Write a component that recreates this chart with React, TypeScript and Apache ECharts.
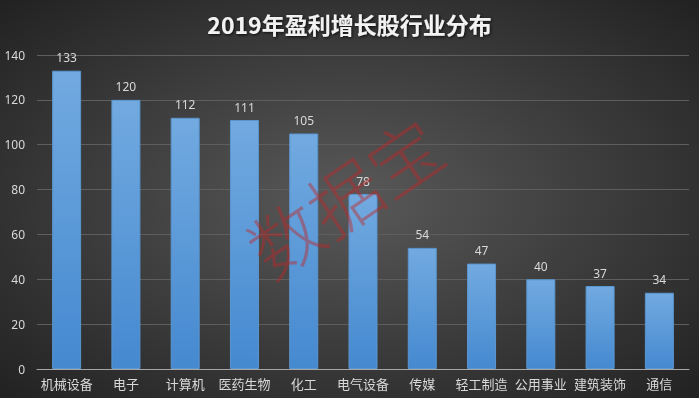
import React, { useEffect, useRef } from "react";
import * as echarts from "echarts";

const categories = ["机械设备", "电子", "计算机", "医药生物", "化工", "电气设备", "传媒", "轻工制造", "公用事业", "建筑装饰", "通信"];
const values = [133, 120, 112, 111, 105, 78, 54, 47, 40, 37, 34];
const titleText = "2019年盈利增长股行业分布";
const watermark = "数据宝";

export default function App() {
  const ref = useRef<HTMLDivElement>(null);
  useEffect(() => {
    const chart = echarts.init(ref.current!, null, { renderer: "svg" });
    chart.setOption({
      animation: false,
      backgroundColor: {
        type: "radial",
        x: 0.5,
        y: 0.5,
        r: 0.75,
        colorStops: [
          { offset: 0, color: "#595959" },
          { offset: 1, color: "#1e1e1e" },
        ],
      },
      title: {
        text: titleText,
        left: "center",
        top: 7,
        textStyle: {
          color: "#f2f2f2",
          fontSize: 23,
          fontWeight: "bold",
          fontFamily: "Noto Sans CJK SC",
          textShadowColor: "rgba(0,0,0,0.8)",
          textShadowBlur: 3,
          textShadowOffsetX: 1,
          textShadowOffsetY: 1,
        },
      },
      grid: { left: 37, right: 10, top: 55, bottom: 29, containLabel: false },
      xAxis: {
        type: "category",
        data: categories,
        axisLine: { lineStyle: { color: "#a6a6a6", width: 1 } },
        axisTick: { show: false },
        axisLabel: { color: "#d9d9d9", fontSize: 13, margin: 8, fontFamily: "Noto Sans CJK SC", interval: 0 },
      },
      yAxis: {
        type: "value",
        min: 0,
        max: 140,
        interval: 20,
        axisLine: { show: false },
        axisTick: { show: false },
        axisLabel: { color: "#d9d9d9", fontSize: 12, margin: 12, fontFamily: "Noto Sans" },
        splitLine: { lineStyle: { color: "#5e5e5e", width: 1 } },
      },
      series: [
        {
          type: "bar",
          data: values,
          barWidth: 29,
          itemStyle: {
            color: {
              type: "linear",
              x: 0, y: 0, x2: 0, y2: 1,
              colorStops: [
                { offset: 0, color: "#72aae0" },
                { offset: 1, color: "#4589d0" },
              ],
            },
            borderColor: "#5a96d0",
            borderWidth: 1,
          },
          label: {
            show: true,
            position: "top",
            distance: 7,
            color: "#d9d9d9",
            fontSize: 12,
            fontFamily: "Noto Sans",
          },
        },
      ],
      graphic: [
        {
          type: "text",
          x: 343,
          y: 195,
          rotation: 0.6,
          z: 100,
          style: {
            text: watermark,
            font: "300 72px 'Noto Sans CJK SC'",
            fill: "rgba(190,40,40,0.45)",
            textAlign: "center",
            textVerticalAlign: "middle",
          },
        },
      ],
    });
    return () => chart.dispose();
  }, []);
  return <div ref={ref} style={{ position: "fixed", left: 0, top: 0, width: 699, height: 398 }} />;
}
